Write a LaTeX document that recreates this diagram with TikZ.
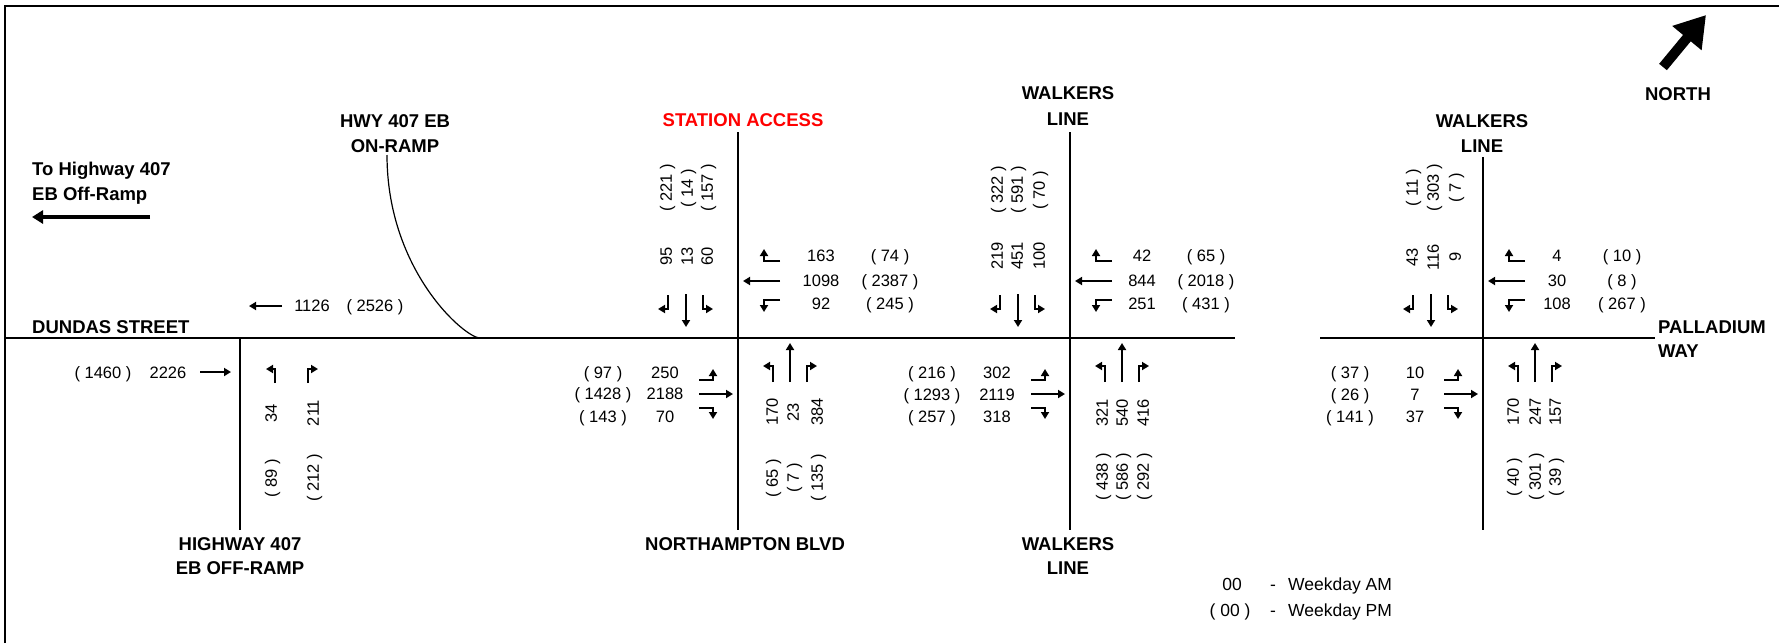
\documentclass[tikz,border=0pt]{standalone}
\usepackage{fontspec}
\setmainfont{Liberation Sans}
\usetikzlibrary{arrows.meta, math}
\definecolor{accred}{RGB}{255,0,0}

\tikzset{
  mv/.style={line width=2.4pt, -{Triangle[length=7pt,width=8pt]}},
  road/.style={line width=2pt},
  num/.style={inner sep=0pt, text height=11.8pt, text depth=0pt, font=\fontsize{16.5}{18}\selectfont},
  vnum/.style={num, rotate=90},
  lbl/.style={inner sep=0pt, anchor=base, font=\bfseries\fontsize{18.5}{20}\selectfont},
  key/.style={inner sep=0pt, anchor=base, font=\fontsize{17.5}{19}\selectfont},
}

% turning arrows, offsets from the centre of a crossing
\newcommand{\sbmoves}{
  \draw[mv] (-70,-43) -- (-70,-29) -- (-80,-29);
  \draw[mv] (-52,-44) -- (-52,-11);
  \draw[mv] (-35,-43) -- (-35,-29) -- (-25,-29);
}
\newcommand{\wbmoves}{
  \draw[mv] (42,-77) -- (26,-77) -- (26,-89);
  \draw[mv] (42,-57) -- (5,-57);
  \draw[mv] (42,-38) -- (26,-38) -- (26,-26);
}
\newcommand{\ebmoves}{
  \draw[mv] (-39,42) -- (-25,42) -- (-25,31);
  \draw[mv] (-39,56) -- (-5,56);
  \draw[mv] (-39,70) -- (-25,70) -- (-25,81);
}
\newcommand{\nbmoves}{
  \draw[mv] (35,44) -- (35,28) -- (25,28);
  \draw[mv] (52,44) -- (52,5);
  \draw[mv] (69,44) -- (69,28) -- (79,28);
}

\begin{document}
\begin{tikzpicture}[x=1pt,y=-1pt]
\useasboundingbox (0,0) rectangle (1779,643);

%frame
\draw[line width=2.5pt] (5,643) -- (5,6) -- (1779,6);

%roads
\draw[road] (5,338) -- (1235,338);
\draw[road] (1320,338) -- (1655,338);
\draw[road] (240,338) -- (240,530);
\draw[road] (738,132) -- (738,530);
\draw[road] (1070,132) -- (1070,530);
\draw[road] (1483,157) -- (1483,530);
\draw[line width=1.2pt] (387,155) .. controls (387,271) and (465,338) .. (480,338);

%big arrows
\draw[line width=4pt, -{Triangle[length=11pt,width=13pt]}] (150,217) -- (32,217);
\draw[line width=10pt, -{Triangle[length=30pt,width=36pt]}] (1663,67) -- (1706,15);

%street names
\node[lbl, anchor=base west] (to407-a) at (32,175) {To Highway 407};
\node[lbl, anchor=base west] (to407-b) at (32,200) {EB Off-Ramp};
\node[lbl, anchor=base west] (dundas) at (32,333) {DUNDAS STREET};
\node[lbl] (onramp-a) at (395,127) {HWY 407 EB};
\node[lbl] (onramp-b) at (395,152) {ON-RAMP};
\node[lbl, text=accred] (station) at (743,126) {STATION ACCESS};
\node[lbl] (walkers-n1) at (1068,99) {WALKERS};
\node[lbl] (walkers-n2) at (1068,125) {LINE};
\node[lbl] (offramp-a) at (240,550) {HIGHWAY 407};
\node[lbl] (offramp-b) at (240,574) {EB OFF-RAMP};
\node[lbl] (northampton) at (745,550) {NORTHAMPTON BLVD};
\node[lbl] (walkers-s1) at (1068,550) {WALKERS};
\node[lbl] (walkers-s2) at (1068,574) {LINE};
\node[lbl] (walkers-p1) at (1482,127) {WALKERS};
\node[lbl] (walkers-p2) at (1482,152) {LINE};
\node[lbl, anchor=base west] (palladium-a) at (1658,333) {PALLADIUM};
\node[lbl, anchor=base west] (palladium-b) at (1658,357) {WAY};
\node[lbl] (north) at (1678,100) {NORTH};

%westbound to the on-ramp
\draw[mv] (282,306) -- (249,306);
\node[num] (dun-w-am) at (312,306) {1126};
\node[num] (dun-w-pm) at (375,306) {( 2526 )};

%highway 407 off-ramp
\begin{scope}[shift={(240,338)}]
\draw[mv] (-40,34) -- (-9,34);
\draw[mv] (35,45) -- (35,31) -- (26,31);
\draw[mv] (68,45) -- (68,31) -- (78,31);
\node[num] (off-e-pm) at (-137,35) {( 1460 )};
\node[num] (off-e-am) at (-72,35) {2226};
\foreach \vam/\vpm/\dx [count=\i] in {34/89/31,211/212/73}{
  \node[vnum] (off-n-am\i) at (\dx,75) {\vam};
  \node[vnum] (off-n-pm\i) at (\dx,140) {( \vpm{} )};
}
\end{scope}

%station access
\begin{scope}[shift={(738,338)}]
\sbmoves \wbmoves \ebmoves \nbmoves
\foreach \vam/\vpm/\dx [count=\i] in {95/221/-72,13/14/-51,60/157/-31}{
  \node[vnum] (sa-s-am\i) at (\dx,-82) {\vam};
  \node[vnum] (sa-s-pm\i) at (\dx,-150) {( \vpm{} )};
}
\foreach \vam/\vpm/\dy [count=\i] in {163/74/-82,1098/2387/-57,92/245/-34}{
  \node[num] (sa-w-am\i) at (83,\dy) {\vam};
  \node[num] (sa-w-pm\i) at (152,\dy) {( \vpm{} )};
}
\foreach \vam/\vpm/\dy [count=\i] in {250/97/35,2188/1428/56,70/143/79}{
  \node[num] (sa-e-am\i) at (-73,\dy) {\vam};
  \node[num] (sa-e-pm\i) at (-135,\dy) {( \vpm{} )};
}
\foreach \vam/\vpm/\dx [count=\i] in {170/65/34,23/7/55,384/135/79}{
  \node[vnum] (sa-n-am\i) at (\dx,74) {\vam};
  \node[vnum] (sa-n-pm\i) at (\dx,140) {( \vpm{} )};
}
\end{scope}

%walkers line
\begin{scope}[shift={(1070,338)}]
\sbmoves \wbmoves \ebmoves \nbmoves
\foreach \vam/\vpm/\dx [count=\i] in {219/322/-73,451/591/-53,100/70/-31}{
  \node[vnum] (wl-s-am\i) at (\dx,-82) {\vam};
  \node[vnum] (wl-s-pm\i) at (\dx,-148) {( \vpm{} )};
}
\foreach \vam/\vpm/\dy [count=\i] in {42/65/-82,844/2018/-57,251/431/-34}{
  \node[num] (wl-w-am\i) at (72,\dy) {\vam};
  \node[num] (wl-w-pm\i) at (136,\dy) {( \vpm{} )};
}
\foreach \vam/\vpm/\dy [count=\i] in {302/216/35,2119/1293/57,318/257/79}{
  \node[num] (wl-e-am\i) at (-73,\dy) {\vam};
  \node[num] (wl-e-pm\i) at (-138,\dy) {( \vpm{} )};
}
\foreach \vam/\vpm/\dx [count=\i] in {321/438/32,540/586/52,416/292/73}{
  \node[vnum] (wl-n-am\i) at (\dx,75) {\vam};
  \node[vnum] (wl-n-pm\i) at (\dx,139) {( \vpm{} )};
}
\end{scope}

%palladium way
\begin{scope}[shift={(1483,338)}]
\sbmoves \wbmoves \ebmoves \nbmoves
\foreach \vam/\vpm/\dx [count=\i] in {43/11/-71,116/303/-50,9/7/-28}{
  \node[vnum] (pw-s-am\i) at (\dx,-81) {\vam};
  \node[vnum] (pw-s-pm\i) at (\dx,-150) {( \vpm{} )};
}
\foreach \vam/\vpm/\dy [count=\i] in {4/10/-82,30/8/-57,108/267/-34}{
  \node[num] (pw-w-am\i) at (74,\dy) {\vam};
  \node[num] (pw-w-pm\i) at (139,\dy) {( \vpm{} )};
}
\foreach \vam/\vpm/\dy [count=\i] in {10/37/35,7/26/57,37/141/79}{
  \node[num] (pw-e-am\i) at (-68,\dy) {\vam};
  \node[num] (pw-e-pm\i) at (-133,\dy) {( \vpm{} )};
}
\foreach \vam/\vpm/\dx [count=\i] in {170/40/30,247/301/52,157/39/72}{
  \node[vnum] (pw-n-am\i) at (\dx,74) {\vam};
  \node[vnum] (pw-n-pm\i) at (\dx,139) {( \vpm{} )};
}
\end{scope}

%legend
\node[key] (key-am) at (1232,590) {00};
\node[key] (key-am-dash) at (1273,590) {-};
\node[key, anchor=base west] (key-am-txt) at (1288,590) {Weekday AM};
\node[key] (key-pm) at (1230,616) {( 00 )};
\node[key] (key-pm-dash) at (1273,616) {-};
\node[key, anchor=base west] (key-pm-txt) at (1288,616) {Weekday PM};

\end{tikzpicture}
\end{document}
